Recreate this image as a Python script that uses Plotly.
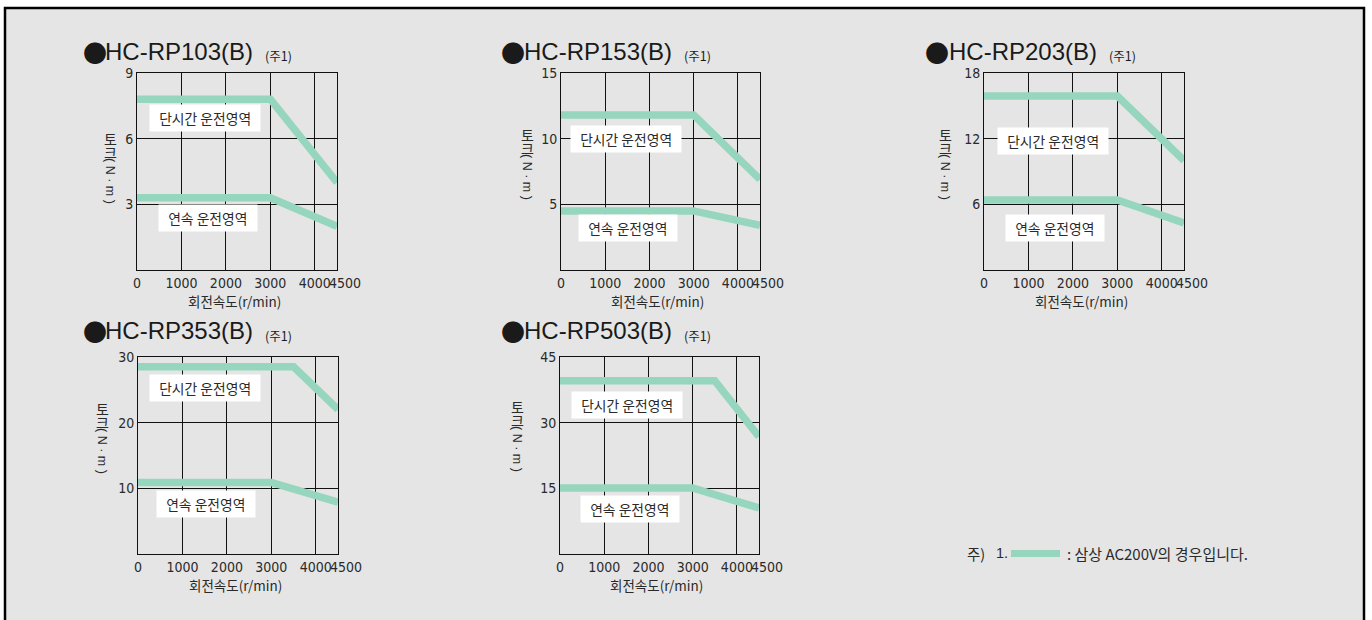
import plotly.graph_objects as go

W, H = 1372, 620

# ---------------- data ----------------
models = ["HC-RP103(B)", "HC-RP153(B)", "HC-RP203(B)", "HC-RP353(B)", "HC-RP503(B)"]
x_ticks = [0, 1000, 2000, 3000, 4000, 4500]
x_ticktext = ["0", "1000", "2000", "3000", "4000", ""]
x_end_tick = [4500]
x_end_text = ["4500"]
y_max = [9, 15, 18, 30, 45]
y_ticks = [[3, 6, 9], [5, 10, 15], [6, 12, 18], [10, 20, 30], [15, 30, 45]]

short_speed = [[0, 3000, 4500], [0, 3000, 4500], [0, 3000, 4500], [0, 3500, 4500], [0, 3500, 4500]]
short_torque = [[7.8, 7.8, 4.0], [11.8, 11.8, 6.9], [15.9, 15.9, 10.0], [28.5, 28.5, 22.0], [39.6, 39.6, 26.8]]
cont_speed = [[0, 3000, 4500], [0, 3000, 4500], [0, 3000, 4500], [0, 3000, 4500], [0, 3000, 4500]]
cont_torque = [[3.3, 3.3, 2.0], [4.5, 4.5, 3.4], [6.4, 6.4, 4.3], [10.9, 10.9, 7.9], [15.1, 15.1, 10.5]]

short_label = "단시간 운전영역"
cont_label = "연속 운전영역"
short_label_pos = [(1525, 6.95), (1467, 10.0), (1547, 11.8), (1500, 25.3), (1505, 34.1)]
cont_label_pos = [(1590, 2.36), (1520, 3.16), (1590, 3.8), (1540, 7.6), (1580, 10.3)]

x_title = "회전속도(r/min)"
y_title_kr = ["토", "크"]
y_title_unit = "( N · m )"
note_text = ": 삼상 AC200V의 경우입니다."

# ---------------- layout geometry (pixels) ----------------
plot_px = [  # x0, x1, y0(top), y1(bottom)
    (137, 337, 73, 270),
    (561, 760, 73, 270),
    (984, 1184, 73, 270),
    (138, 338, 357, 554),
    (560, 759, 357, 554),
]
title_px = [  # bullet x, text x, note x, y
    (81.7, 103, 263, 51),
    (500, 521.5, 681.7, 51),
    (924, 946.5, 1106.7, 51),
    (81.7, 103, 263, 331),
    (500, 521.5, 681.7, 331),
]
ytitle_px = [(110, 132), (527, 128), (945, 128), (102, 402), (517, 400)]

LINE = "rgb(150,213,190)"
KR = "Noto Sans CJK KR"
NUM = "DejaVu Sans Condensed, Liberation Sans Narrow, Liberation Sans, Arial"
TXT = "#2a2a2a"
PAD = "\u00a0\u00a0"


def px(x):
    return x / W


def py(y):
    return 1 - y / H


fig = go.Figure()
annotations = []
shapes = [
    dict(type="rect", xref="paper", yref="paper",
         x0=px(5), x1=px(1364), y0=py(660), y1=py(8),
         fillcolor="#e5e5e5", line=dict(color="black", width=2.5), layer="below"),
]

for i in range(5):
    n = "" if i == 0 else str(i + 1)
    xa, ya = "x" + n, "y" + n
    xo = "x" + str(6 + i)
    x0, x1, y0, y1 = plot_px[i]
    fig.add_trace(go.Scatter(x=short_speed[i], y=short_torque[i], mode="lines",
                             line=dict(color=LINE, width=7.5), xaxis=xa, yaxis=ya,
                             showlegend=False, hoverinfo="skip"))
    fig.add_trace(go.Scatter(x=cont_speed[i], y=cont_torque[i], mode="lines",
                             line=dict(color=LINE, width=7.5), xaxis=xa, yaxis=ya,
                             showlegend=False, hoverinfo="skip"))
    # empty trace so the overlay axis (end tick label) gets drawn
    fig.add_trace(go.Scatter(x=[], y=[], mode="lines", xaxis=xo, yaxis=ya,
                             showlegend=False, hoverinfo="skip"))
    common = dict(showline=True, mirror=True, linecolor="#111", linewidth=1,
                  showgrid=True, gridcolor="#111", gridwidth=1, zeroline=False,
                  ticks="", fixedrange=True, automargin=False)
    fig.layout["xaxis" + n] = dict(
        domain=[px(x0), px(x1)], range=[0, 4500], anchor=ya,
        tickmode="array", tickvals=x_ticks, ticktext=x_ticktext, tickangle=0,
        tickfont=dict(family=NUM, size=14, color=TXT), **common)
    fig.layout["yaxis" + n] = dict(
        domain=[py(y1), py(y0)], range=[0, y_max[i]], anchor=xa,
        tickmode="array", tickvals=y_ticks[i],
        tickfont=dict(family=NUM, size=14, color=TXT), **common)
    fig.layout["xaxis" + str(6 + i)] = dict(
        overlaying=xa, anchor=ya, side="bottom", range=[0, 4500],
        tickmode="array", tickvals=x_end_tick, ticktext=x_end_text, tickangle=0,
        ticklabelshift=8, ticklabelstandoff=3, showgrid=False, showline=False,
        zeroline=False, ticks="", fixedrange=True, automargin=False,
        tickfont=dict(family=NUM, size=14, color=TXT))

    # region labels
    for (lx, ly), txt in ((short_label_pos[i], short_label), (cont_label_pos[i], cont_label)):
        annotations.append(dict(x=lx, y=ly, xref=xa, yref=ya, text=PAD + txt + PAD,
                                showarrow=False,
                                font=dict(family=KR, size=13.8, color=TXT),
                                bgcolor="white", borderpad=3))
    # titles
    bx, tx, nx, ty = title_px[i]
    annotations.append(dict(x=px(bx - 1), y=py(ty), xref="paper", yref="paper", text="●",
                            showarrow=False, xanchor="left", yanchor="middle",
                            font=dict(family=KR, size=24, color="#1a1a1a")))
    annotations.append(dict(x=px(tx), y=py(ty), xref="paper", yref="paper", text=models[i],
                            showarrow=False, xanchor="left", yanchor="middle",
                            font=dict(family="Liberation Sans, Arial", size=24, color="#1a1a1a")))
    annotations.append(dict(x=px(nx), y=py(ty + 4), xref="paper", yref="paper", text="(주1)",
                            showarrow=False, xanchor="left", yanchor="middle",
                            font=dict(family=KR, size=12.5, color="#1a1a1a")))
    # x axis title
    annotations.append(dict(x=px((x0 + x1) / 2 - 3), y=py(y1 + 31), xref="paper", yref="paper",
                            text=x_title, showarrow=False, xanchor="center", yanchor="middle",
                            font=dict(family=KR, size=13.5, color=TXT)))
    # stacked y axis title
    cx, top = ytitle_px[i]
    for ch, off in zip(y_title_kr, (7, 19.5)):
        annotations.append(dict(x=px(cx), y=py(top + off), xref="paper", yref="paper",
                                text=ch, showarrow=False, xanchor="center", yanchor="middle",
                                font=dict(family=KR, size=14, color=TXT)))
    annotations.append(dict(x=px(cx), y=py(top + 49), xref="paper", yref="paper",
                            text=y_title_unit, textangle=90, showarrow=False,
                            xanchor="center", yanchor="middle",
                            font=dict(family="Liberation Sans, Arial", size=12.5, color=TXT)))

# footnote
annotations.append(dict(x=px(965), y=py(553), xref="paper", yref="paper", text="주)",
                        showarrow=False, xanchor="left", yanchor="middle",
                        font=dict(family=KR, size=14.5, color=TXT)))
annotations.append(dict(x=px(994), y=py(553), xref="paper", yref="paper", text="1.",
                        showarrow=False, xanchor="left", yanchor="middle",
                        font=dict(family="Liberation Sans", size=14.5, color=TXT)))
annotations.append(dict(x=px(1065), y=py(553), xref="paper", yref="paper", text=note_text,
                        showarrow=False, xanchor="left", yanchor="middle",
                        font=dict(family=KR, size=15, color=TXT)))
shapes.append(dict(type="line", xref="paper", yref="paper", x0=px(1011), x1=px(1060),
                   y0=py(553.5), y1=py(553.5), line=dict(color=LINE, width=7)))

fig.update_layout(
    template="none",
    width=W, height=H, margin=dict(l=0, r=0, t=0, b=0, pad=0, autoexpand=False),
    paper_bgcolor="white", plot_bgcolor="white",
    annotations=annotations, shapes=shapes, showlegend=False,
)

fig.write_html(
    "out.html",
    config={"displayModeBar": False},
    post_script="document.body.style.margin='0';document.body.style.overflow='hidden';"
                "document.documentElement.style.overflow='hidden';",
)
